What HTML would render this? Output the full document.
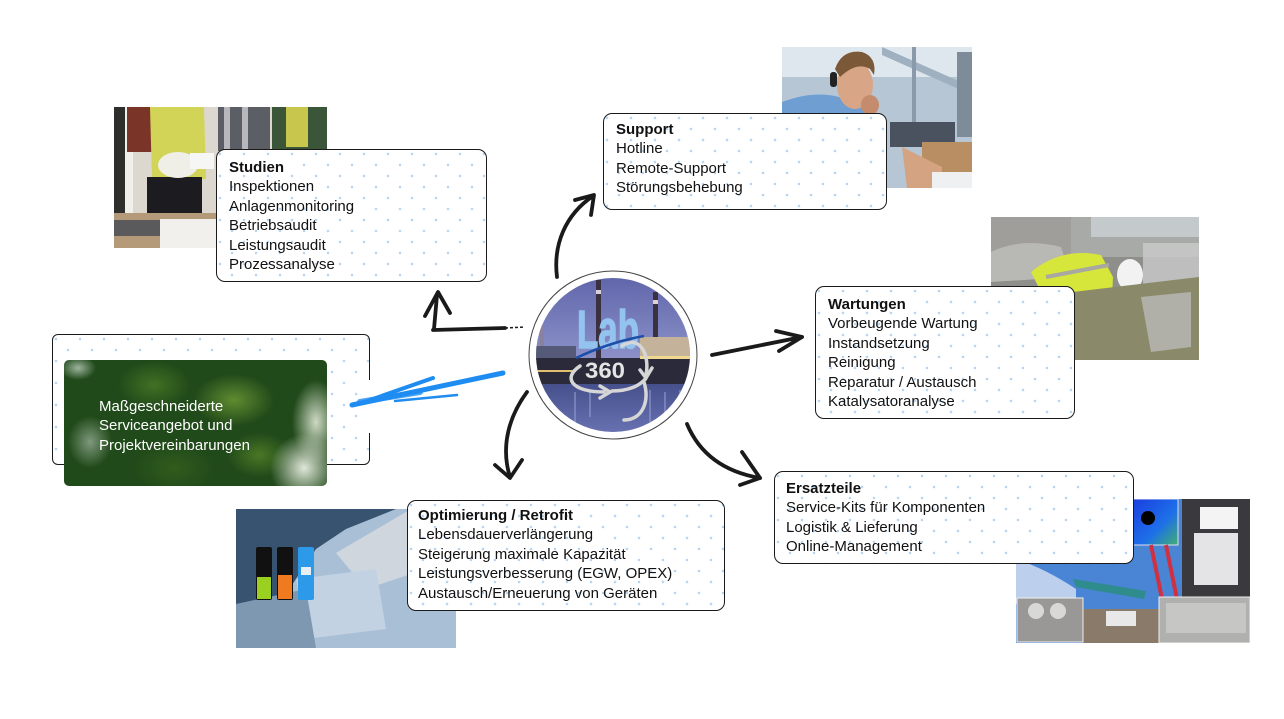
<!DOCTYPE html>
<html><head><meta charset="utf-8">
<style>
html,body{margin:0;padding:0;background:#fff;}
body{width:1284px;height:719px;position:relative;overflow:hidden;font-family:"Liberation Sans",Arial,sans-serif;}
.abs{position:absolute;display:block;}
.box{position:absolute;box-sizing:border-box;border:1.3px solid #1a1a1a;border-radius:9px;background-color:#fff;
background-image:radial-gradient(circle,#b3d2f1 0.9px,transparent 1.6px),radial-gradient(circle,#b3d2f1 0.9px,transparent 1.6px);
background-size:24px 22px;background-position:3px 4px,15px 15px;}
.txt{position:absolute;font-size:15px;line-height:19.4px;color:#111;white-space:nowrap;}
.txt b{font-weight:bold;}
</style></head><body>

<!-- Studien photo -->
<svg class="abs" style="left:114px;top:107px" width="213" height="141" viewBox="0 0 213 141">
<rect width="213" height="141" fill="#dcd8d0"/>
<rect x="0" y="0" width="11" height="141" fill="#2e2e2c"/>
<rect x="11" y="0" width="8" height="110" fill="#f0efea"/>
<rect x="13" y="0" width="45" height="45" fill="#7a3428"/>
<path d="M36 0 L90 0 L92 72 L38 74 Z" fill="#d2d458"/>
<rect x="33" y="70" width="55" height="40" fill="#1c1c20"/>
<ellipse cx="64" cy="58" rx="20" ry="13" fill="#efefe8"/>
<rect x="76" y="46" width="24" height="16" fill="#f6f6f4"/>
<rect x="104" y="0" width="52" height="44" fill="#5c5e66"/>
<rect x="110" y="0" width="6" height="44" fill="#b8b8bc"/>
<rect x="128" y="0" width="6" height="44" fill="#b8b8bc"/>
<rect x="158" y="0" width="55" height="42" fill="#3b5538"/>
<rect x="172" y="0" width="22" height="40" fill="#c9c64e"/>
<rect x="0" y="106" width="213" height="35" fill="#b49a78"/>
<rect x="0" y="113" width="46" height="16" fill="#5a5a5c"/>
<rect x="46" y="112" width="60" height="29" fill="#f1f0ec"/>
</svg>

<!-- Support photo -->
<svg class="abs" style="left:782px;top:47px" width="190" height="141" viewBox="0 0 190 141">
<rect width="190" height="141" fill="#b6c6d4"/>
<rect x="0" y="0" width="190" height="30" fill="#dfe7ee"/>
<path d="M100 0 L190 40 L190 48 L100 8Z" fill="#9fb0c0"/>
<rect x="130" y="0" width="4" height="100" fill="#8a9aaa"/>
<rect x="175" y="5" width="15" height="85" fill="#7d8c98"/>
<rect x="108" y="75" width="65" height="25" fill="#4a5260"/>
<rect x="140" y="95" width="50" height="40" fill="#b88e62"/>
<path d="M120 100 L160 120 L160 141 L125 141Z" fill="#d4a382"/>
<rect x="150" y="125" width="40" height="16" fill="#eef0f2"/>
<path d="M0 55 Q40 40 70 55 L95 70 L95 141 L0 141Z" fill="#6f9fd2"/>
<ellipse cx="73" cy="38" rx="18" ry="24" fill="#d8a586"/>
<path d="M53 22 Q60 2 80 5 Q95 10 92 28 L88 22 Q75 14 58 30Z" fill="#7a5838"/>
<rect x="48" y="25" width="7" height="15" rx="3" fill="#222"/>
<ellipse cx="88" cy="58" rx="9" ry="10" fill="#c48c6c"/>
</svg>

<!-- Wartungen photo -->
<svg class="abs" style="left:991px;top:217px" width="208" height="143" viewBox="0 0 208 143">
<rect width="208" height="143" fill="#8e8e8a"/>
<rect x="0" y="0" width="208" height="40" fill="#a8aaa8"/>
<rect x="0" y="0" width="80" height="60" fill="#a09e9a"/>
<path d="M0 35 Q30 20 70 30 L80 60 L0 65Z" fill="#b8b8b4"/>
<rect x="100" y="0" width="108" height="20" fill="#c4cacc"/>
<path d="M40 55 Q70 30 110 38 L122 60 L120 100 L60 95 Z" fill="#d6e63a"/>
<path d="M55 60 L118 48" stroke="#a8a8a0" stroke-width="4"/>
<ellipse cx="139" cy="58" rx="13" ry="16" fill="#f2f2f2"/>
<rect x="152" y="26" width="56" height="70" fill="#cacaca" opacity="0.8"/>
<path d="M82 75 L208 60 L208 143 L82 143Z" fill="#8a8a6a"/>
<path d="M150 80 L200 75 L200 130 L160 135Z" fill="#b0b0a8"/>
</svg>

<!-- Ersatzteile collage -->
<svg class="abs" style="left:1016px;top:499px" width="234" height="144" viewBox="0 0 234 144">
<defs><linearGradient id="sw" x1="0" y1="0" x2="1" y2="1"><stop offset="0" stop-color="#1a3ee0"/><stop offset="0.6" stop-color="#1e70e8"/><stop offset="1" stop-color="#40b070"/></linearGradient></defs>
<rect width="234" height="144" fill="#4a84d4"/>
<path d="M0 60 Q30 70 60 90 L60 110 L0 105Z" fill="#d8e4f2" opacity=".8"/>
<rect x="117" y="0" width="45" height="46" fill="url(#sw)" stroke="#dde" stroke-width="1"/>
<circle cx="132" cy="19" r="7" fill="#000"/>
<rect x="166" y="0" width="68" height="98" fill="#3a3a3e"/>
<rect x="178" y="34" width="44" height="52" fill="#e4e4e6"/>
<rect x="184" y="8" width="38" height="22" fill="#f4f4f4"/>
<path d="M135 46 L155 144 M150 46 L165 120" stroke="#d03040" stroke-width="4"/>
<path d="M57 80 L130 92 L128 100 L60 88Z" fill="#2e8c8c"/>
<rect x="67" y="110" width="76" height="34" fill="#8a7a6a"/>
<rect x="90" y="112" width="30" height="15" fill="#e8e8e8"/>
<rect x="1" y="99" width="66" height="44" fill="#9a9896" stroke="#eee"/>
<circle cx="20" cy="112" r="8" fill="#d8d8d4"/><circle cx="42" cy="112" r="8" fill="#d8d8d4"/>
<rect x="143" y="98" width="91" height="46" fill="#b0b0ae" stroke="#eee"/>
<rect x="150" y="104" width="80" height="30" fill="#c6c6c4"/>
</svg>

<!-- Optimierung photo -->
<svg class="abs" style="left:236px;top:509px" width="220" height="139" viewBox="0 0 220 139">
<rect width="220" height="139" fill="#37536f"/>
<path d="M80 40 L110 20 L160 0 L220 0 L220 139 L60 139 L40 100Z" fill="#a9bfd6"/>
<path d="M100 44 L175 0 L190 10 L190 60 L130 80Z" fill="#cfd6de"/>
<path d="M60 70 L140 60 L150 120 L70 130Z" fill="#c2d2e2"/>
<path d="M0 95 L70 80 L80 139 L0 139Z" fill="#7f98b2"/>
<rect x="20" y="38" width="16" height="53" rx="2" fill="#111"/>
<rect x="21" y="68" width="14" height="22" fill="#9ad020"/>
<rect x="41" y="38" width="16" height="53" rx="2" fill="#111"/>
<rect x="42" y="66" width="14" height="24" fill="#f07a20"/>
<rect x="62" y="38" width="16" height="53" rx="2" fill="#2c9ae8"/>
<rect x="65" y="58" width="10" height="8" fill="#e8eef4"/>
</svg>

<!-- Left outline box -->
<div class="box" style="left:52px;top:334px;width:318px;height:131px;border-radius:6px;border-width:1.2px;"></div>
<!-- Green forest card -->
<div class="abs" style="left:64px;top:360px;width:263px;height:126px;border-radius:5px;overflow:hidden;
background:
radial-gradient(ellipse 34px 34px at 240px 108px,rgba(235,240,228,.95),rgba(235,240,228,0) 100%),
radial-gradient(ellipse 24px 42px at 252px 62px,rgba(225,233,215,.9),rgba(225,233,215,0) 100%),
radial-gradient(ellipse 22px 26px at 26px 82px,rgba(190,205,190,.6),rgba(190,205,190,0) 100%),
radial-gradient(ellipse 18px 12px at 14px 8px,rgba(210,225,215,.7),rgba(210,225,215,0) 100%),
radial-gradient(ellipse 40px 26px at 170px 40px,rgba(130,175,60,.65),rgba(130,175,60,0) 100%),
radial-gradient(ellipse 36px 24px at 90px 25px,rgba(80,130,40,.7),rgba(80,130,40,0) 100%),
radial-gradient(ellipse 32px 22px at 195px 95px,rgba(100,150,45,.6),rgba(100,150,45,0) 100%),
radial-gradient(ellipse 40px 25px at 110px 108px,rgba(55,100,30,.7),rgba(55,100,30,0) 100%),
#214a1a;"></div>
<div class="txt" style="left:99px;top:397px;color:#fff;">Maßgeschneiderte<br>Serviceangebot und<br>Projektvereinbarungen</div>

<!-- Boxes -->
<div class="box" style="left:216px;top:149px;width:271px;height:133px;"></div>
<div class="txt" style="left:229px;top:158px;"><b>Studien</b><br>Inspektionen<br>Anlagenmonitoring<br>Betriebsaudit<br>Leistungsaudit<br>Prozessanalyse</div>

<div class="box" style="left:603px;top:113px;width:284px;height:97px;"></div>
<div class="txt" style="left:616px;top:120px;"><b>Support</b><br>Hotline<br>Remote-Support<br>Störungsbehebung</div>

<div class="box" style="left:815px;top:286px;width:260px;height:133px;"></div>
<div class="txt" style="left:828px;top:295px;"><b>Wartungen</b><br>Vorbeugende Wartung<br>Instandsetzung<br>Reinigung<br>Reparatur / Austausch<br>Katalysatoranalyse</div>

<div class="box" style="left:774px;top:471px;width:360px;height:93px;"></div>
<div class="txt" style="left:786px;top:479px;"><b>Ersatzteile</b><br>Service-Kits für Komponenten<br>Logistik &amp; Lieferung<br>Online-Management</div>

<div class="box" style="left:407px;top:500px;width:318px;height:111px;"></div>
<div class="txt" style="left:418px;top:506px;"><b>Optimierung / Retrofit</b><br>Lebensdauerverlängerung<br>Steigerung maximale Kapazität<br>Leistungsverbesserung (EGW, OPEX)<br>Austausch/Erneuerung von Geräten</div>

<!-- Overlay: circle + arrows -->
<svg class="abs" style="left:0;top:0" width="1284" height="719" viewBox="0 0 1284 719">
<defs>
<clipPath id="cc"><circle cx="613" cy="355" r="77"/></clipPath>
<linearGradient id="sky" x1="0" y1="0" x2="0" y2="1"><stop offset="0" stop-color="#5c62a8"/><stop offset="1" stop-color="#8c92c8"/></linearGradient>
<linearGradient id="water" x1="0" y1="0" x2="0" y2="1"><stop offset="0" stop-color="#46508c"/><stop offset="1" stop-color="#6a74b4"/></linearGradient>
</defs>
<rect x="366" y="380" width="6" height="53" fill="#fff"/>
<circle cx="613" cy="355" r="84" fill="#fff" stroke="#444" stroke-width="1"/>
<g clip-path="url(#cc)">
<rect x="530" y="270" width="170" height="90" fill="url(#sky)"/>
<rect x="540" y="326" width="4" height="30" fill="#8a80a0"/>
<rect x="596" y="280" width="5" height="78" fill="#3a3040"/>
<rect x="596" y="290" width="5" height="4" fill="#d8d0d8"/>
<rect x="653" y="292" width="5" height="66" fill="#3a3040"/>
<rect x="653" y="300" width="5" height="4" fill="#e0d0d0"/>
<rect x="536" y="346" width="40" height="14" fill="#555a78"/>
<rect x="640" y="337" width="52" height="22" fill="#c4b29a"/>
<rect x="530" y="358" width="170" height="26" fill="#2a2a3a"/>
<rect x="640" y="356" width="52" height="3" fill="#f0d890"/>
<rect x="536" y="370" width="40" height="2" fill="#e0c070"/>
<rect x="530" y="384" width="170" height="52" fill="url(#water)"/>
<path d="M575 392v30 M590 392v25 M650 390v35 M665 392v28 M680 390v22" stroke="#9aa0d4" stroke-width="1.5" opacity=".7"/>
</g>
<text x="577" y="348" font-family="Liberation Sans, Arial, sans-serif" font-weight="bold" font-size="54" fill="#93c3ee" stroke="#93c3ee" stroke-width="1.5" textLength="62" lengthAdjust="spacingAndGlyphs">Lab</text>
<path d="M576 358 Q610 342 644 336" stroke="#1d4fa8" stroke-width="2.5" fill="none"/>
<g stroke="#d6d6d6" stroke-width="3.5" fill="none" stroke-linecap="round">
<path d="M580 366 C562 378 572 392 604 392"/>
<path d="M600 386 L610 392 L600 398"/>
<path d="M612 391 C628 391 640 386 646 378"/>
<path d="M622 346 C640 334 650 355 646 375"/>
<path d="M640 370 L646 378 L652 368"/>
<path d="M644 382 C650 402 642 420 624 420"/>
</g>
<text x="585" y="378" font-family="Liberation Sans, Arial, sans-serif" font-weight="bold" font-size="22" fill="#e4e4e4" textLength="40" lengthAdjust="spacingAndGlyphs">360</text>

<g stroke="#1a1a1a" stroke-width="3.8" fill="none" stroke-linecap="round" stroke-linejoin="round">
<path d="M557 277 C553 245 565 215 593 196"/>
<path d="M575 200 L594 195 L591 215"/>
<path d="M505 328 L433 330"/>
<path d="M434 329 L437 295"/>
<path d="M425 316 L438 292 L450 313"/>
<path d="M527 392 C510 415 500 445 510 477"/>
<path d="M495 465 L510 478 L522 460"/>
<path d="M712 355 L802 337"/>
<path d="M776 331 L802 337 L779 351"/>
<path d="M687 424 C700 455 725 472 760 478"/>
<path d="M742 452 L760 478 L740 485"/>
</g>
<path d="M505 328 L525 327" stroke="#1a1a1a" stroke-width="1.5" stroke-dasharray="3 2"/>
<g stroke="#1e8cf0" fill="none" stroke-linecap="round">
<path d="M503 373 L352 405" stroke-width="5"/>
<path d="M433 378 L370 400" stroke-width="4"/>
<path d="M457 395 L395 401" stroke-width="2.5"/>
<path d="M360 402 L420 392" stroke-width="6" opacity=".8"/>
</g>
</svg>
</body></html>
